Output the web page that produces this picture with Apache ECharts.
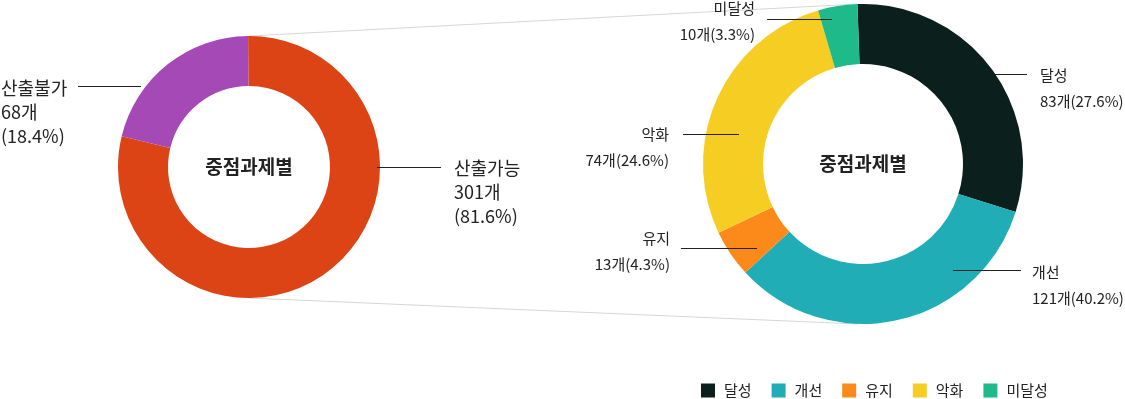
<!DOCTYPE html>
<html>
<head>
<meta charset="utf-8">
<script src="https://cdn.jsdelivr.net/npm/echarts@6/dist/echarts.min.js"></script>
<style>
  html, body { margin: 0; padding: 0; background: #fff; }
  #chart { width: 1125px; height: 399px; }
</style>
</head>
<body>
<div id="chart"></div>
<script>
// ---- data ----
const leftCategories = ['산출가능', '산출불가'];
const leftValues = [301, 68];               // counts printed in the labels
const leftPercents = ['81.6', '18.4'];      // percentages printed in the labels
const leftSliceDeg = [284, 76];             // slice sweep as drawn in the picture (degrees)

const rightCategories = ['달성', '개선', '유지', '악화', '미달성'];
const rightValues = [83, 121, 13, 74, 10];  // counts printed in the labels
const rightPercents = ['27.6', '40.2', '4.3', '24.6', '3.3'];
const rightSliceDeg = [109.5, 119.8, 17.3, 99.1, 14.3]; // slice sweep as drawn in the picture

const centerTitle = '중점과제별';

// ---- geometry / style ----
const FONT = '"Noto Sans CJK KR", "Noto Sans", sans-serif';
const L = { cx: 249, cy: 167, r0: 81, r1: 131, start: 90.4 };
const R = { cx: 863, cy: 164, r0: 100, r1: 160, start: 92 };
const leftColors = ['#dc4415', '#a449b6'];
const rightColors = ['#0b1f1d', '#20adb5', '#fb8a1a', '#f6cd22', '#1fba8a'];

// label placement, offsets relative to each pie centre
const leftLabelSpec = [
  { tx: 205, ty: -11, align: 'left', ly: 0, lx0: 128, lx1: 192 },
  { tx: -248, ty: -91, align: 'left', ly: -81, lx0: -171, lx1: -108 }
];
const rightLabelSpec = [
  { tx: 177, ty: -102, align: 'left', ly: -90, lx0: 132, lx1: 164 },
  { tx: 169, ty: 95, align: 'left', ly: 106, lx0: 90, lx1: 158 },
  { tx: -193, ty: 61, align: 'right', ly: 84, lx0: -182, lx1: -106 },
  { tx: -194, ty: -43, align: 'right', ly: -30, lx0: -180, lx1: -124 },
  { tx: -108, ty: -169, align: 'right', ly: -145, lx0: -96, lx1: -31 }
];

function makeLayout(g, spec) {
  return function (p) {
    const s = spec[p.dataIndex];
    return { x: g.cx + s.tx, y: g.cy + s.ty, align: s.align, verticalAlign: 'top' };
  };
}

// leader lines, drawn above the rings
function leaderLines(g, spec) {
  return spec.map(s => ({
    type: 'line', z: 20,
    shape: { x1: g.cx + s.lx0, y1: g.cy + s.ly + 0.5, x2: g.cx + s.lx1, y2: g.cy + s.ly + 0.5 },
    style: { stroke: '#222', lineWidth: 1 }
  }));
}

const chart = echarts.init(document.getElementById('chart'), null, { renderer: 'canvas' });

const option = {
  animation: false,
  textStyle: { fontFamily: FONT },
  legend: {
    data: rightCategories,
    left: 701,
    top: 383,
    padding: 0,
    icon: 'rect',
    itemWidth: 14,
    itemHeight: 14,
    itemGap: 20,
    selectedMode: false,
    textStyle: { fontFamily: FONT, fontSize: 15, color: '#222', padding: [0, 0, 0, 4] }
  },
  graphic: [
    { type: 'line', z: 0, shape: { x1: L.cx, y1: L.cy - L.r1, x2: R.cx - 5, y2: R.cy - R.r1 },
      style: { stroke: '#d6d6d6', lineWidth: 1 } },
    { type: 'line', z: 0, shape: { x1: L.cx, y1: L.cy + L.r1, x2: R.cx - 5, y2: R.cy + R.r1 },
      style: { stroke: '#d6d6d6', lineWidth: 1 } },
    { type: 'text', z: 10, x: L.cx, y: L.cy,
      style: { text: centerTitle, fill: '#222', font: 'bold 19px ' + FONT, textAlign: 'center', textVerticalAlign: 'middle' } },
    { type: 'text', z: 10, x: R.cx, y: R.cy,
      style: { text: centerTitle, fill: '#222', font: 'bold 19px ' + FONT, textAlign: 'center', textVerticalAlign: 'middle' } }
  ].concat(leaderLines(L, leftLabelSpec), leaderLines(R, rightLabelSpec)),
  series: [
    {
      type: 'pie',
      z: 2,
      center: [L.cx, L.cy],
      radius: [L.r0, L.r1],
      startAngle: L.start,
      clockwise: true,
      emphasis: { disabled: true },
      data: leftCategories.map((n, i) => ({ name: n, value: leftSliceDeg[i], itemStyle: { color: leftColors[i] } })),
      label: {
        show: true,
        position: 'outside',
        formatter: p => p.name + '\n' + leftValues[p.dataIndex] + '개\n(' + leftPercents[p.dataIndex] + '%)',
        fontFamily: FONT,
        fontSize: 18,
        lineHeight: 24,
        width: 110,
        overflow: 'none',
        color: '#222'
      },
      labelLine: { show: false },
      labelLayout: makeLayout(L, leftLabelSpec)
    },
    {
      type: 'pie',
      z: 2,
      center: [R.cx, R.cy],
      radius: [R.r0, R.r1],
      startAngle: R.start,
      clockwise: true,
      emphasis: { disabled: true },
      data: rightCategories.map((n, i) => ({ name: n, value: rightSliceDeg[i], itemStyle: { color: rightColors[i] } })),
      label: {
        show: true,
        position: 'outside',
        formatter: p => p.name + '\n' + rightValues[p.dataIndex] + '개(' + rightPercents[p.dataIndex] + '%)',
        fontFamily: FONT,
        fontSize: 15,
        lineHeight: 26,
        width: 130,
        overflow: 'none',
        color: '#222'
      },
      labelLine: { show: false },
      labelLayout: makeLayout(R, rightLabelSpec)
    }
  ]
};

chart.setOption(option);
</script>
</body>
</html>
